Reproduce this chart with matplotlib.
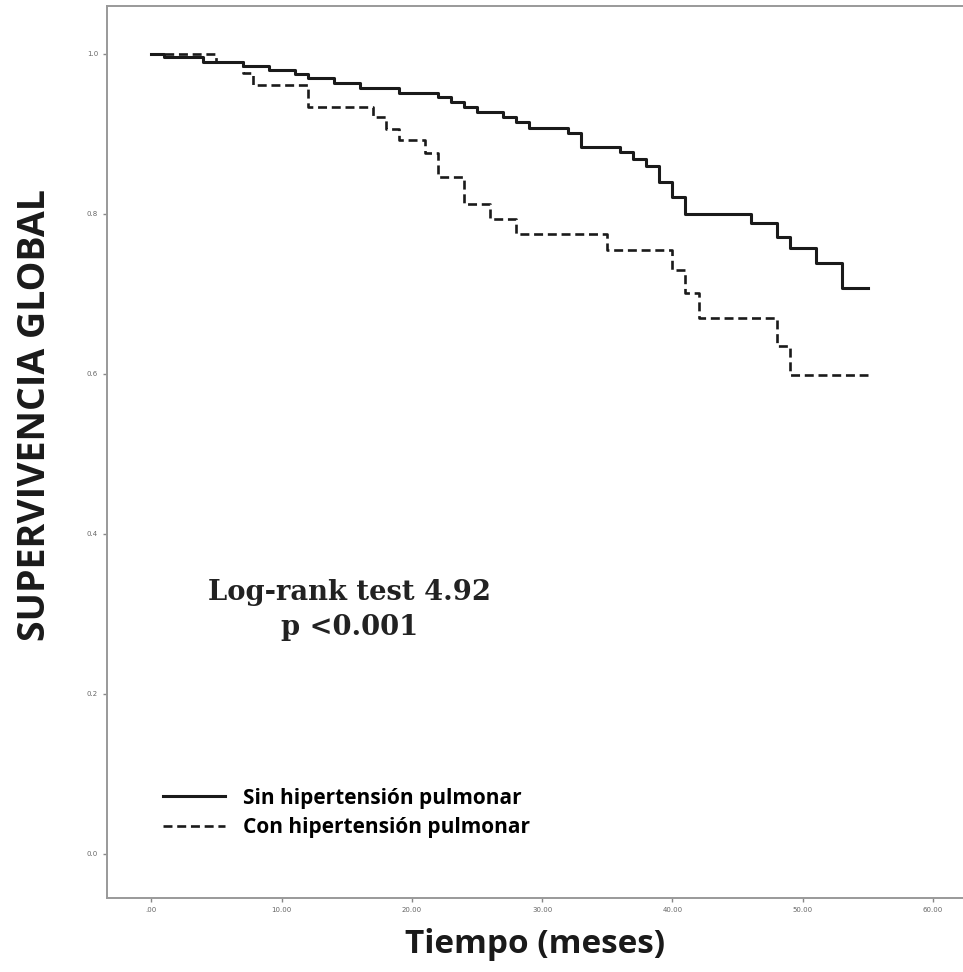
import matplotlib.pyplot as plt
from matplotlib.ticker import FixedFormatter, FixedLocator

# Kaplan-Meier (tiempo en meses, supervivencia)
t_sin = [0, 1, 4, 7, 9, 11, 12, 14, 16, 19, 22, 23, 24, 25, 27, 28, 29, 32, 33,
         36, 37, 38, 39, 40, 41, 46, 48, 49, 51, 53, 55]
s_sin = [1.0, 0.996, 0.990, 0.985, 0.980, 0.975, 0.970, 0.964, 0.958, 0.951,
         0.946, 0.940, 0.934, 0.928, 0.921, 0.915, 0.908, 0.901, 0.884, 0.877,
         0.869, 0.860, 0.840, 0.821, 0.800, 0.789, 0.771, 0.758, 0.739, 0.708,
         0.708]

t_con = [0, 5, 7, 7.8, 12, 17, 18, 19, 21, 22, 24, 26, 28, 35, 40, 41, 42, 48,
         49, 55]
s_con = [1.0, 0.990, 0.976, 0.961, 0.934, 0.921, 0.906, 0.892, 0.876, 0.846,
         0.812, 0.794, 0.775, 0.755, 0.730, 0.701, 0.670, 0.635, 0.599, 0.599]

x_ticks = [0, 10, 20, 30, 40, 50, 60]
x_labels = ['.00', '10.00', '20.00', '30.00', '40.00', '50.00', '60.00']
y_ticks = [0.0, 0.2, 0.4, 0.6, 0.8, 1.0]
y_labels = ['0.0', '0.2', '0.4', '0.6', '0.8', '1.0']

fig = plt.figure(figsize=(9.63, 9.72), dpi=100)
ax = fig.add_axes([107 / 963, 1 - 898 / 972, 1 - 107 / 963, (898 - 6) / 972])

ax.step(t_sin, s_sin, where='post', color='#1a1a1a', lw=2.2,
        label='Sin hipertensión pulmonar')
ax.step(t_con, s_con, where='post', color='#1a1a1a', lw=1.9,
        linestyle=(0, (3.4, 1.8)), label='Con hipertensión pulmonar')

ax.set_xlim(-3.4, 62.3)
ax.set_ylim(-0.055, 1.06)

ax.xaxis.set_major_locator(FixedLocator(x_ticks))
ax.xaxis.set_major_formatter(FixedFormatter(x_labels))
ax.yaxis.set_major_locator(FixedLocator(y_ticks))
ax.yaxis.set_major_formatter(FixedFormatter(y_labels))
ax.tick_params(direction='out', length=3, width=1, colors='#888888',
               labelcolor='#666666', labelsize=5)

# marco gris, sin borde derecho
for side in ['left', 'bottom', 'top']:
    ax.spines[side].set_color('#999999')
    ax.spines[side].set_linewidth(1.4)
ax.spines['right'].set_visible(False)

ax.set_xlabel('Tiempo (meses)', family='Open Sans', fontweight='bold',
              fontsize=24, color='#1a1a1a', labelpad=11)
ax.set_ylabel('SUPERVIVENCIA GLOBAL', family='Open Sans', fontweight='bold',
              fontsize=27, color='#1a1a1a')
ax.yaxis.label.set_verticalalignment('center')
ax.yaxis.set_label_coords((35 - 107) / 856, (898 - 415) / 892)

ax.text(15.2, 0.305, 'Log-rank test 4.92\np <0.001', ha='center', va='center',
        family='DejaVu Serif', fontweight='bold', fontsize=19.7,
        color='#222222', linespacing=1.35)

leg = ax.legend(loc='upper left', bbox_to_anchor=(144 / 963, 1 - 769 / 972),
                bbox_transform=fig.transFigure, frameon=False,
                prop={'family': 'Open Sans', 'weight': 'bold', 'size': 15},
                handlelength=3.0, handletextpad=0.87, labelspacing=0.4)

fig.savefig('out.png', dpi=100)
